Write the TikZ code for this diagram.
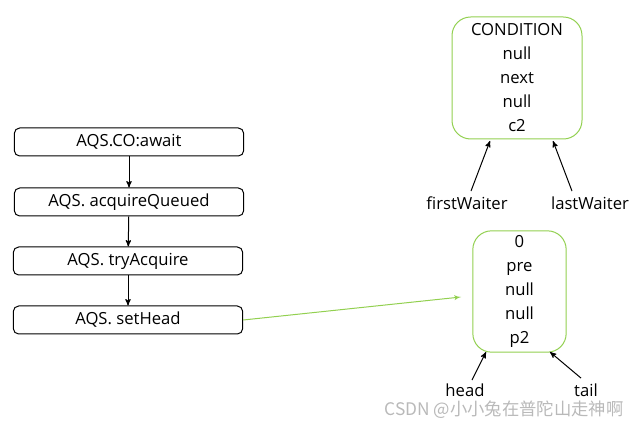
\documentclass[tikz,border=0pt]{standalone}
\usepackage{fontspec}
\setmainfont{Open Sans}
\newfontfamily\cjk{Noto Sans CJK SC}
\usetikzlibrary{arrows}
\definecolor{lgreen}{RGB}{146,208,80}
\tikzset{
	callbox/.style = {draw=black, rounded corners=4pt, inner sep=0pt,
		minimum width=172pt, minimum height=21pt},% appel
	objbox/.style = {draw=lgreen, rounded corners=14pt, inner sep=0pt,
		align=center, font=\fontsize{12.5}{18}\selectfont},% objet
	ptr/.style = {inner sep=0pt},% pointeur
	link/.style = {->, >=stealth', black},
	glink/.style = {->, >=latex', lgreen}
}

\begin{document}
\begin{tikzpicture}[x=0.75pt, y=-0.75pt, line width=0.75pt,
		font=\fontsize{12.5}{15}\selectfont]
	\useasboundingbox (0,0) rectangle (642,427);
	% pile d'appels
	\node [callbox] (await) at (129,142) {AQS.CO:await};
	\node [callbox] (acq) at (129,202) {AQS. acquireQueued};
	\node [callbox] (try) at (128,261) {AQS. tryAcquire};
	\node [callbox] (sethead) at (128,320) {AQS. setHead};
	\draw [link] (await) -- (acq);
	\draw [link] (acq) -- (try);
	\draw [link] (try) -- (sethead);
	% condition
	\node [objbox, minimum width=97.5pt, minimum height=91.5pt] (cond) at (517,78)
		{CONDITION\\null\\next\\null\\c2};
	\node [ptr] (first) at (467,203) {firstWaiter};
	\node [ptr] (last) at (590,203) {lastWaiter};
	\draw [link] (first.north) ++(4,-5) -- (490,141);
	\draw [link] (last.north) ++(-18,-5) -- (553,141);
	% noeud
	\node [objbox, minimum width=70pt, minimum height=91pt] (p2) at (519.5,291.5)
		{0\\pre\\null\\null\\p2};
	\node [ptr] (head) at (465,390) {head};
	\node [ptr] (tail) at (586,390) {tail};
	\draw [link] (head.north) ++(7,-3) -- (486,352);
	\draw [link] (tail.north) ++(-5,-5) -- (550,352);
	% setHead
	\coordinate (tip) at (461,297);
	\draw [glink] (sethead.east) -- (tip);
	\node [ptr, gray!55, font=\cjk\fontsize{13}{15}\selectfont] (mark) at (504,410)
		{CSDN @小小兔在普陀山走神啊};
\end{tikzpicture}
\end{document}
